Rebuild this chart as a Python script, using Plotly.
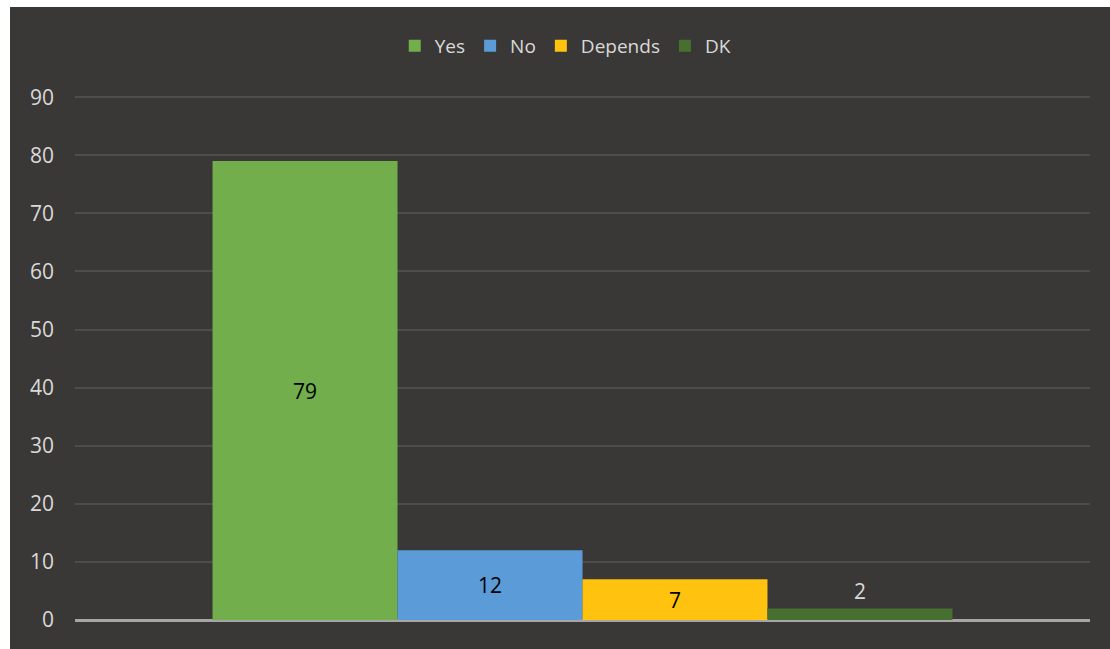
import plotly.graph_objects as go

# Survey answers (%)
categories = ["Yes", "No", "Depends", "DK"]
values = [79, 12, 7, 2]
colors = ["#72ae4b", "#5a9bd8", "#ffc20e", "#466f30"]

y_ticks = [0, 10, 20, 30, 40, 50, 60, 70, 80, 90]

W, H = 1110, 649
ML, MR, MT, MB = 75, 20, 96, 29
PW, PH = W - ML - MR, H - MT - MB

BG = "#3a3836"
FONT = "Open Sans"
LIGHT = "#d9d9d9"

fig = go.Figure()
for name, v, c in zip(categories, values, colors):
    fig.add_trace(go.Bar(
        name=name,
        x=[""],
        y=[v],
        marker=dict(color=c, line=dict(width=0)),
        text=[str(v)],
        textposition="auto",
        insidetextanchor="middle",
        insidetextfont=dict(family=FONT, size=21, color="#000000"),
        outsidetextfont=dict(family=FONT, size=21, color=LIGHT),
        cliponaxis=False,
        hoverinfo="skip",
    ))

# dark chart panel behind the plot, framed by a thin white strip on the top and left
fig.add_shape(
    type="rect", xref="paper", yref="paper", layer="below",
    x0=(10 - ML) / PW, x1=(W - ML) / PW,
    y0=-MB / PH, y1=(PH + MT - 7) / PH,
    fillcolor=BG, line=dict(width=0),
)

fig.update_layout(
    width=W, height=H,
    margin=dict(l=ML, r=MR, t=MT, b=MB),
    paper_bgcolor="#ffffff",
    plot_bgcolor="rgba(0,0,0,0)",
    barmode="group",
    bargap=0.271,
    bargroupgap=0,
    showlegend=True,
    legend=dict(
        orientation="h",
        x=0.483, xanchor="center",
        y=(PH + MT - 46) / PH, yanchor="middle",
        font=dict(family=FONT, size=19, color=LIGHT),
        itemwidth=30,
        bgcolor="rgba(0,0,0,0)",
        traceorder="normal",
    ),
    font=dict(family=FONT, size=20, color=LIGHT),
)

fig.update_xaxes(
    range=[-0.5, 0.5],
    showticklabels=False,
    showgrid=False,
    zeroline=False,
    showline=False,
    ticks="",
)
fig.update_yaxes(
    range=[0, 90.2],
    tickvals=y_ticks,
    ticktext=[str(t) for t in y_ticks],
    showgrid=True,
    gridcolor="#4f4d4b",
    gridwidth=1.5,
    zeroline=True,
    zerolinecolor="#a6a6a6",
    zerolinewidth=2.5,
    showline=False,
    ticks="",
    ticklabelstandoff=20,
    tickfont=dict(family=FONT, size=21, color=LIGHT),
)

fig.write_html("out.html")
